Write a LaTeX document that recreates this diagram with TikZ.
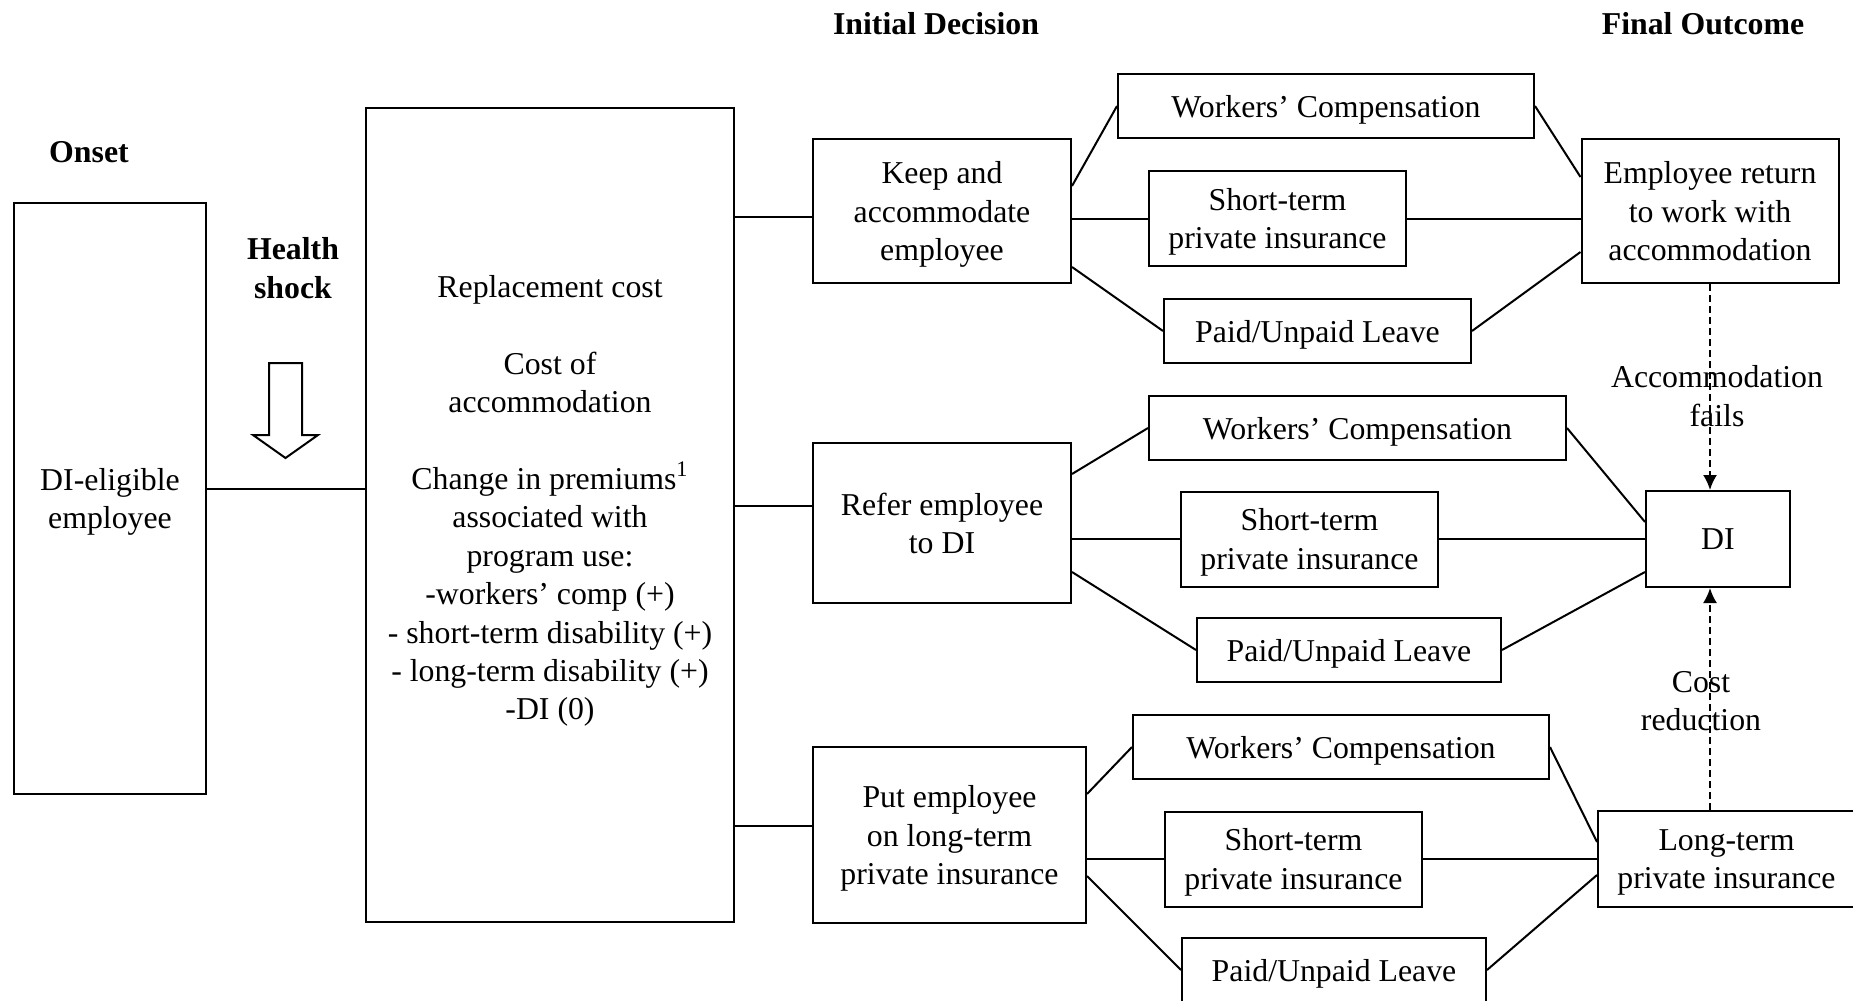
\documentclass[tikz,border=0pt]{standalone}
\usepackage{fontspec}
\setmainfont{Liberation Serif}
\usetikzlibrary{arrows.meta}

\begin{document}
\begin{tikzpicture}[x=0.5pt, y=-0.5pt,
  every node/.style = {align=center, font=\fontsize{15.9}{19.2}\selectfont},
  box/.style = {draw, line width=1pt, inner sep=0pt, text depth=0pt},
  head/.style = {font=\fontsize{15.9}{19.2}\selectfont\bfseries},
  link/.style = {draw, line width=1pt},
  fade/.style = {draw, line width=1pt, dash pattern=on 3.5pt off 2pt, -{Latex[length=7.5pt,width=7pt]}}]
  \useasboundingbox (0,0) rectangle (1853,1001);

  % headings
  \node [head] (onsethead) at (89,152) {Onset};
  \node [head] (shock) at (293,268) {Health\\shock};
  \node [head] (initial) at (936,24) {Initial Decision};
  \node [head] (final) at (1703,24) {Final Outcome};

  % left part
  \node [box, minimum width=96pt, minimum height=295.5pt] (onset) at (110,498.5) {DI-eligible\\employee};
  \node [box, minimum width=184pt, minimum height=407pt] (repl) at (550,515) {};
  \node (repltext) at (550,501) {Replacement cost\\[19.2pt]Cost of\\accommodation\\[19.2pt]Change in premiums\textsuperscript{1}\\associated with\\program use:\\-workers' comp (+)\\- short-term disability (+)\\- long-term disability (+)\\-DI (0)};
  \draw [line width=1pt] (269,363) -- (302,363) -- (302,435) -- (318,435) -- (285.5,458) -- (253,435) -- (269,435) -- cycle;

  % initial decision
  \node [box, minimum width=129pt, minimum height=72pt] (keep) at (942,211) {Keep and\\accommodate\\employee};
  \node [box, minimum width=129pt, minimum height=80pt] (refer) at (942,523) {Refer employee\\to DI};
  \node [box, minimum width=136.5pt, minimum height=88pt] (put) at (949.5,835) {Put employee\\on long-term\\private insurance};

  % programs
  \node [box, minimum width=208pt, minimum height=32pt] (wc1) at (1326,106) {Workers' Compensation};
  \node [box, minimum width=128.5pt, minimum height=47.5pt] (st1) at (1277.5,218.5) {Short-term\\private insurance};
  \node [box, minimum width=153.5pt, minimum height=32pt] (pl1) at (1317.5,331) {Paid/Unpaid Leave};
  \node [box, minimum width=208.5pt, minimum height=32pt] (wc2) at (1357.5,428) {Workers' Compensation};
  \node [box, minimum width=128.5pt, minimum height=47.5pt] (st2) at (1309.5,539) {Short-term\\private insurance};
  \node [box, minimum width=152pt, minimum height=32pt] (pl2) at (1349,650) {Paid/Unpaid Leave};
  \node [box, minimum width=208pt, minimum height=32pt] (wc3) at (1341,747) {Workers' Compensation};
  \node [box, minimum width=128.5pt, minimum height=47.5pt] (st3) at (1293.5,859) {Short-term\\private insurance};
  \node [box, minimum width=152pt, minimum height=32pt] (pl3) at (1334,970) {Paid/Unpaid Leave};

  % final outcome
  \node [box, minimum width=128.5pt, minimum height=72pt] (ret) at (1710,211) {Employee return\\to work with\\accommodation};
  \node [box, minimum width=72pt, minimum height=48pt] (di) at (1718,539) {DI};
  \node [box, minimum width=128.5pt, minimum height=48pt] (lt) at (1726.5,859) {Long-term\\private insurance};
  \node (failtext) at (1717,396) {Accommodation\\fails};
  \node (costtext) at (1701,701) {Cost\\reduction};

  % connectors
  \coordinate (onsetout) at ([yshift=4.75pt]onset.east);
  \coordinate (keepin) at ([yshift=-3pt]keep.west);
  \coordinate (referin) at ([yshift=8.5pt]refer.west);
  \coordinate (putin) at ([yshift=4.5pt]put.west);
  \path [link] (onsetout) -- (onsetout -| repl.west);
  \path [link] (keepin -| repl.east) -- (keepin);
  \path [link] (referin -| repl.east) -- (referin);
  \path [link] (putin -| repl.east) -- (putin);

  \path [link] ([yshift=12.5pt]keep.east) -- (wc1.west);
  \path [link] (st1.west -| keep.east) -- (st1.west);
  \path [link] ([yshift=-28pt]keep.east) -- (pl1.west);
  \path [link] (wc1.east) -- ([yshift=17pt]ret.west);
  \path [link] (st1.east) -- (st1.east -| ret.west);
  \path [link] (pl1.east) -- ([yshift=-20.5pt]ret.west);

  \path [link] ([yshift=24.5pt]refer.east) -- (wc2.west);
  \path [link] (st2.west -| refer.east) -- (st2.west);
  \path [link] ([yshift=-24.5pt]refer.east) -- (pl2.west);
  \path [link] (wc2.east) -- ([yshift=8.5pt]di.west);
  \path [link] (st2.east) -- (st2.east -| di.west);
  \path [link] (pl2.east) -- ([yshift=-16.5pt]di.west);

  \path [link] ([yshift=20.5pt]put.east) -- (wc3.west);
  \path [link] (st3.west -| put.east) -- (st3.west);
  \path [link] ([yshift=-20.5pt]put.east) -- (pl3.west);
  \path [link] (wc3.east) -- ([yshift=8.5pt]lt.west);
  \path [link] (st3.east) -- (st3.east -| lt.west);
  \path [link] (pl3.east) -- ([yshift=-8pt]lt.west);

  \path [fade] (ret.south) -- (ret.south |- di.north);
  \path [fade] (ret.south |- lt.north) -- (ret.south |- di.south);
\end{tikzpicture}
\end{document}
